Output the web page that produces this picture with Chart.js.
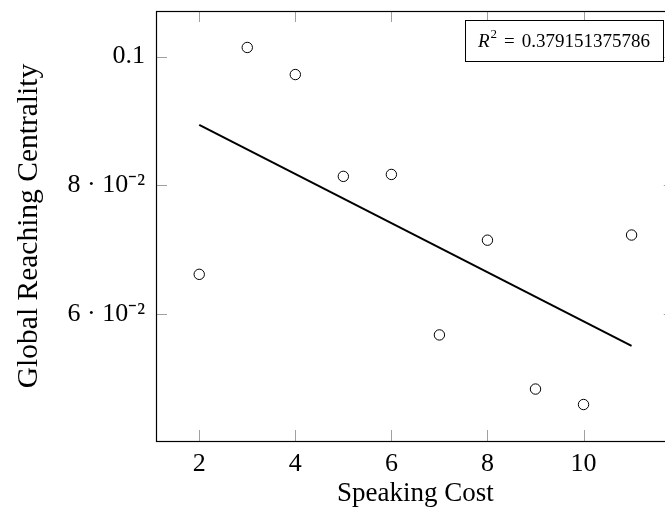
<!DOCTYPE html>
<html>
<head>
<meta charset="utf-8">
<script src="https://cdn.jsdelivr.net/npm/chart.js@4/dist/chart.umd.min.js"></script>
<style>
  html, body { margin: 0; padding: 0; background: #fff; overflow: hidden; }
  #wrap { width: 665px; height: 515px; overflow: hidden; position: relative; }
  canvas { display: block; }
</style>
</head>
<body>
<div id="wrap"><canvas id="c" width="681" height="515"></canvas></div>
<script>
// ---- data ----
const speakingCost = [2, 3, 4, 5, 6, 7, 8, 9, 10, 11];
const reachingCentrality = [0.0662, 0.1014, 0.0972, 0.0814, 0.0817, 0.0568, 0.0715, 0.0484, 0.0460, 0.0723];
const fitX = [2, 11];
const fitY = [0.0894, 0.0551];
const xTicks = [2, 4, 6, 8, 10];
const yTicks = [0.06, 0.08, 0.1];
const yTickLabels = ['6 · 10⁻²', '8 · 10⁻²', '0.1'];
const xTitle = 'Speaking Cost';
const yTitle = 'Global Reaching Centrality';
const rSquared = '0.379151375786';

const FONT = '"Liberation Serif", "Times New Roman", serif';

const scatterData = speakingCost.map((x, i) => ({ x: x, y: reachingCentrality[i] }));
const fitData = fitX.map((x, i) => ({ x: x, y: fitY[i] }));

const frame = {
  id: 'frame',
  beforeDatasetsDraw(chart) {
    const { ctx, chartArea: a, scales } = chart;
    ctx.save();
    ctx.strokeStyle = '#a0a0a0';
    ctx.lineWidth = 1;
    const L = 11;
    scales.x.ticks.forEach(t => {
      const px = Math.round(scales.x.getPixelForValue(t.value)) + 0.5;
      ctx.beginPath();
      ctx.moveTo(px, a.bottom); ctx.lineTo(px, a.bottom - L);
      ctx.moveTo(px, a.top); ctx.lineTo(px, a.top + L);
      ctx.stroke();
    });
    scales.y.ticks.forEach(t => {
      const py = Math.round(scales.y.getPixelForValue(t.value)) + 0.5;
      ctx.beginPath();
      ctx.moveTo(a.left, py); ctx.lineTo(a.left + L, py);
      ctx.moveTo(a.right, py); ctx.lineTo(a.right - L, py);
      ctx.stroke();
    });
    ctx.strokeStyle = '#000';
    ctx.lineWidth = 1.2;
    ctx.strokeRect(Math.round(a.left) + 0.5, Math.round(a.top) + 0.5, a.right - a.left, a.bottom - a.top);
    ctx.restore();
  },
  afterDraw(chart) {
    const { ctx } = chart;
    const bx = 465.5, by = 20.5, bw = 198, bh = 41;
    ctx.save();
    ctx.fillStyle = '#fff';
    ctx.fillRect(bx, by, bw, bh);
    ctx.strokeStyle = '#000';
    ctx.lineWidth = 1;
    ctx.strokeRect(bx, by, bw, bh);
    ctx.fillStyle = '#000';
    ctx.textBaseline = 'alphabetic';
    const base = by + 26;
    let x = bx + 12.5;
    ctx.font = 'italic 19px ' + FONT;
    ctx.fillText('R', x, base);
    x += ctx.measureText('R').width + 1;
    ctx.font = '13px ' + FONT;
    ctx.fillText('2', x, base - 8.5);
    x += ctx.measureText('2').width + 7;
    ctx.font = '19px ' + FONT;
    ctx.fillText('=', x, base);
    x += ctx.measureText('=').width + 7;
    ctx.fillText(rSquared, x, base);
    ctx.restore();
  }
};

new Chart(document.getElementById('c'), {
  type: 'scatter',
  data: {
    datasets: [
      {
        label: 'data',
        data: scatterData,
        showLine: false,
        pointStyle: 'circle',
        pointRadius: 5.2,
        pointBorderWidth: 1,
        pointBorderColor: '#000',
        pointBackgroundColor: '#fff',
        order: 1
      },
      {
        label: 'fit',
        data: fitData,
        showLine: true,
        borderColor: '#000',
        borderWidth: 2,
        pointRadius: 0,
        order: 2
      }
    ]
  },
  options: {
    responsive: false,
    animation: false,
    events: [],
    layout: { padding: { top: 11, left: 0, right: 0, bottom: 0 } },
    plugins: { legend: { display: false }, tooltip: { enabled: false } },
    scales: {
      x: {
        type: 'linear',
        min: 1.1,
        max: 11.9,
        grid: { display: false, drawTicks: false },
        border: { display: false },
        afterBuildTicks: s => { s.ticks = xTicks.map(v => ({ value: v })); },
        afterFit: s => { s.height = 74; s.paddingLeft = 0; s.paddingRight = 0; },
        ticks: {
          color: '#000',
          font: { family: FONT, size: 26 },
          padding: 8,
          maxRotation: 0,
          callback: v => String(v)
        },
        title: {
          display: true,
          text: xTitle,
          color: '#000',
          font: { family: FONT, size: 27 },
          padding: { top: 0, bottom: 5 }
        }
      },
      y: {
        type: 'linear',
        min: 0.04034,
        max: 0.10706,
        grid: { display: false, drawTicks: false },
        border: { display: false },
        afterBuildTicks: s => { s.ticks = yTicks.map(v => ({ value: v })); },
        afterFit: s => { s.width = 156; s.paddingTop = 0; s.paddingBottom = 0; },
        ticks: {
          color: '#000',
          font: { family: FONT, size: 26 },
          padding: 11,
          callback: v => {
            const i = yTicks.findIndex(t => Math.abs(t - v) < 1e-9);
            return i >= 0 ? yTickLabels[i] : '';
          }
        },
        title: {
          display: true,
          text: yTitle,
          color: '#000',
          font: { family: FONT, size: 29.5 },
          padding: { top: 12, bottom: 0 }
        }
      }
    }
  },
  plugins: [frame]
});
</script>
</body>
</html>
